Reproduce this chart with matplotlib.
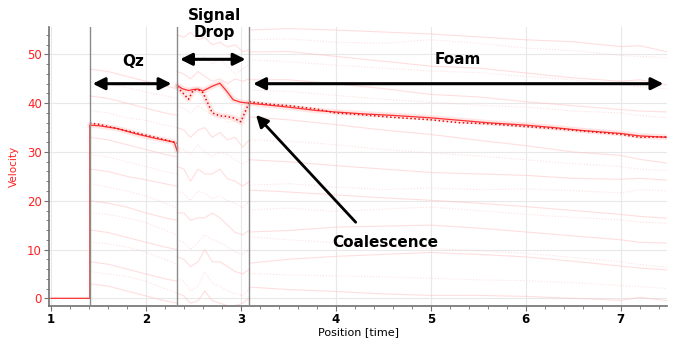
import numpy as np
import matplotlib.pyplot as plt
from matplotlib.patches import FancyArrowPatch
from matplotlib.ticker import MultipleLocator

# main trace (solid + dotted)
main_x = [1.0, 1.41, 1.41, 1.5, 1.7, 1.9, 2.1, 2.3, 2.33]
main_v = [0, 0, 35.5, 35.4, 34.8, 33.7, 32.8, 32.0, 30.2]
dot_q_x = [1.41, 1.5, 1.7, 1.9, 2.1, 2.3, 2.33]
dot_q_v = [35.9, 35.7, 34.8, 33.9, 33.0, 32.0, 31.8]

sd_x = [2.33, 2.38, 2.45, 2.5, 2.55, 2.6, 2.7, 2.78, 2.85, 2.92, 3.0, 3.09]
sd_solid = [43.7, 43.0, 42.6, 42.8, 42.9, 42.5, 43.5, 44.1, 42.5, 40.7, 40.2, 40.0]
sd_dot = [43.3, 42.3, 40.8, 42.7, 42.8, 42.2, 38.0, 37.4, 37.3, 37.0, 36.2, 40.2]

fm_x = [3.09, 3.3, 3.5, 3.8, 4.0, 4.3, 4.6, 5.0, 5.3, 5.6, 6.0, 6.3, 6.6, 7.0, 7.2, 7.5]
fm_solid = [40.0, 39.6, 39.2, 38.5, 38.2, 37.8, 37.5, 37.0, 36.5, 36.0, 35.5, 35.0, 34.4, 33.8, 33.3, 33.0]
fm_dot = [40.3, 39.8, 39.5, 38.8, 38.0, 37.6, 37.1, 36.6, 36.0, 35.8, 35.2, 34.8, 34.3, 33.6, 33.0, 33.1]

# faint background traces
q_x = [1.41, 1.6, 1.8, 2.0, 2.2, 2.33]
q_lines = [
    [47, 46.5, 45.5, 44.5, 43.5, 43],
    [44.5, 44, 43.2, 42.3, 41.5, 41],
    [41.5, 41, 40, 39, 38, 37.5],
    [38.5, 38, 37, 36.5, 35.5, 35],
    [33, 32.5, 31.5, 30.5, 29.5, 29],
    [29.5, 29, 28, 27, 26, 25.5],
    [26.5, 26, 25, 24.3, 23.5, 23],
    [23.5, 22.8, 22, 21, 19.5, 18.5],
    [20, 19.5, 18.7, 17.5, 16.5, 16],
    [17.5, 17.2, 16.5, 15.5, 14, 13],
    [14, 13.5, 12.5, 11.5, 10.5, 10],
    [11.5, 11.2, 10.5, 9.5, 8, 7],
    [7.5, 7, 6, 5, 4, 3.5],
    [5.5, 5, 4.5, 3.5, 2, 1],
    [3, 2.5, 1.5, 0.5, -0.5, -1],
]
s_x = [2.33, 2.4, 2.47, 2.55, 2.62, 2.7, 2.78, 2.86, 2.94, 3.02, 3.09]
s_lines = [
    [54, 53.5, 54.5, 53, 53.5, 52, 52.5, 51.5, 52, 50.5, 51],
    [50, 49.5, 48, 49, 49.5, 48, 49, 47.5, 46, 47, 48],
    [46.5, 46, 45, 46.5, 45.5, 44.5, 45, 44, 45, 44.5, 45],
    [39.5, 39, 38, 39.5, 38.5, 37.5, 38, 36, 36.5, 35.5, 37],
    [35, 34.5, 33, 34.5, 35, 33, 34, 32.5, 33, 31, 32.5],
    [31, 30.5, 29.5, 31.5, 30, 29, 30, 29.5, 28.5, 27.5, 28.5],
    [27, 26.5, 24, 26.5, 25.5, 25.5, 26.5, 24.5, 24, 23, 24],
    [22, 21.5, 20, 22, 21.5, 20.5, 21, 20, 19.5, 18.5, 20],
    [17.5, 17.5, 16, 16.5, 16.5, 17.5, 16.5, 15, 13.5, 13, 14],
    [12, 11.5, 10, 11.5, 13, 12, 11.5, 10.5, 9.5, 9, 10],
    [8.5, 8, 6.5, 7.5, 10, 7.5, 7.5, 6.5, 5.5, 5, 6],
    [4, 3.5, 1.5, 2.5, 5.5, 3, 2.5, 1.5, 1, 0.5, 2],
    [1, 0.5, -1, -0.5, 1.5, -0.5, -1, -1.5, -1.5, -1, 0],
]
f_x = [3.09, 3.5, 4.0, 4.5, 5.0, 5.5, 6.0, 6.5, 7.0, 7.2, 7.5]
f_lines = [
    [55, 55.3, 55, 54.6, 54.2, 53.6, 53, 52.6, 51.6, 51.8, 50.5],
    [53, 53.2, 52.5, 52.3, 53, 52.3, 51.3, 50.8, 49.8, 49.6, 49.3],
    [50.5, 50.6, 49.6, 48.6, 47.6, 47.2, 46.2, 45.2, 44.5, 44.8, 43.7],
    [48.9, 48.5, 47.8, 47.2, 46.6, 46.3, 45.5, 44.8, 43.8, 43.4, 42.9],
    [44.8, 44.8, 44, 43, 41.8, 41.3, 40.3, 39.5, 38.7, 38.4, 38.2],
    [42.7, 42.4, 41.6, 40.8, 40.2, 39.6, 39.2, 38.4, 38, 37.5, 37],
    [37.2, 36.6, 35.6, 34.5, 33.6, 32.4, 31.3, 30, 29.3, 28.5, 27.7],
    [32.5, 32.2, 31.5, 30.5, 29.8, 29.2, 28.4, 27.6, 27, 26.5, 26.2],
    [28.4, 28, 27.2, 26.5, 25.8, 25.5, 25.2, 24.6, 24.4, 24.6, 24.2],
    [23.2, 23.5, 22.8, 22.3, 22.6, 22.3, 22.4, 22.1, 21.6, 22.3, 22.0],
    [22.2, 21.8, 21.2, 20.6, 20.1, 19.5, 18.8, 18.0, 17.2, 16.8, 16.4],
    [18.1, 18.5, 17.8, 18.3, 18.7, 18.0, 17.2, 16.6, 16.1, 15.6, 15.4],
    [13.6, 13.9, 14.6, 14.8, 15.0, 14.4, 13.6, 12.8, 12.0, 11.5, 11.3],
    [12.6, 12.0, 11.4, 10.8, 10.2, 9.8, 9.2, 8.4, 7.5, 6.9, 6.4],
    [7.2, 8.0, 8.6, 9.0, 9.4, 9.0, 8.5, 7.6, 6.6, 6.2, 5.8],
    [5.1, 4.8, 4.6, 4.4, 4.1, 3.8, 3.6, 3.2, 2.6, 2.4, 2.0],
    [2.3, 1.8, 1.4, 0.9, 0.6, 0.6, 0.4, 0.0, -0.4, 0.2, -0.5],
]
vlines_x = [1.41, 2.33, 3.09]

fig = plt.figure(figsize=(6.85, 3.39), dpi=100)
ax = fig.add_axes([0.0715, 0.097, 0.9025, 0.823])

faint = '#ffc4c4'
for xs, group in [(q_x, q_lines), (s_x, s_lines), (f_x, f_lines)]:
    for i, v in enumerate(group):
        ax.plot(xs, v, color=faint, lw=0.8, alpha=0.55,
                ls='-' if i % 2 == 0 else ':', zorder=2)

# glow under the main trace
for xs, v in [(main_x[2:], main_v[2:]), (sd_x, sd_solid), (sd_x, sd_dot), (fm_x, fm_solid)]:
    ax.plot(xs, v, color='#ffcfcf', lw=4, alpha=0.55, zorder=3, solid_capstyle='round')

ax.plot(main_x, main_v, color='#ff3030', lw=0.9, zorder=4)
ax.plot(dot_q_x, dot_q_v, color='#e01010', lw=1.1, ls=':', zorder=4)
ax.plot(sd_x, sd_solid, color='#ff3030', lw=0.9, zorder=4)
ax.plot(sd_x, sd_dot, color='#e01010', lw=1.1, ls=':', zorder=4)
ax.plot(fm_x, fm_solid, color='#ff3030', lw=0.9, zorder=4)
ax.plot(fm_x, fm_dot, color='#e01010', lw=1.1, ls=':', zorder=4)

for xv in vlines_x:
    ax.axvline(xv, color='#8a8a8a', lw=1, zorder=5)

ax.set_xlim(0.98, 7.49)
ax.set_ylim(-1.6, 55.6)
ax.xaxis.set_major_locator(MultipleLocator(1))
ax.xaxis.set_minor_locator(MultipleLocator(0.2))
ax.yaxis.set_major_locator(MultipleLocator(10))
ax.yaxis.set_minor_locator(MultipleLocator(2))
ax.grid(True, which='major', color='#e8e8e8', lw=0.8, zorder=0)
for s in ['top', 'right']:
    ax.spines[s].set_visible(False)
for s in ['left', 'bottom']:
    ax.spines[s].set_color('#707070')
    ax.spines[s].set_linewidth(1.2)
ax.tick_params(axis='both', which='both', colors='#707070')
ax.tick_params(axis='both', which='major', length=3.5, pad=1.5)
ax.tick_params(axis='both', which='minor', length=2)
ax.tick_params(axis='x', labelcolor='black', labelsize=8.5)
ax.tick_params(axis='y', labelcolor='#ff2020', labelsize=8.5)
for t in ax.get_xticklabels():
    t.set_fontweight('bold')
ax.set_xlabel('Position [time]', fontsize=8, labelpad=1)
ax.set_ylabel('Velocity', fontsize=7.5, color='#ff2020', labelpad=6)

def darrow(x0, x1, y):
    a = FancyArrowPatch((x0, y), (x1, y), arrowstyle='<|-|>', mutation_scale=18,
                        lw=2.2, color='black', zorder=10, clip_on=False,
                        shrinkA=0, shrinkB=0)
    ax.add_patch(a)

darrow(1.44, 2.27, 44.0)
darrow(2.36, 3.05, 49.0)
darrow(3.13, 7.45, 44.0)

ax.text(1.87, 48.5, 'Qz', fontsize=11, fontweight='bold', ha='center', va='center', zorder=11)
ax.text(2.72, 56.3, 'Signal\nDrop', fontsize=11, fontweight='bold', ha='center', va='center',
        linespacing=1.15, zorder=11, clip_on=False)
ax.text(5.28, 49.0, 'Foam', fontsize=11, fontweight='bold', ha='center', va='center', zorder=11)
ax.text(4.52, 11.4, 'Coalescence', fontsize=11, fontweight='bold', ha='center', va='center', zorder=11)
ax.add_patch(FancyArrowPatch((4.21, 15.6), (3.16, 37.6), arrowstyle='-|>', mutation_scale=18,
                             lw=2, color='black', zorder=10, shrinkA=0, shrinkB=0))

fig.savefig('out.png', dpi=100)
